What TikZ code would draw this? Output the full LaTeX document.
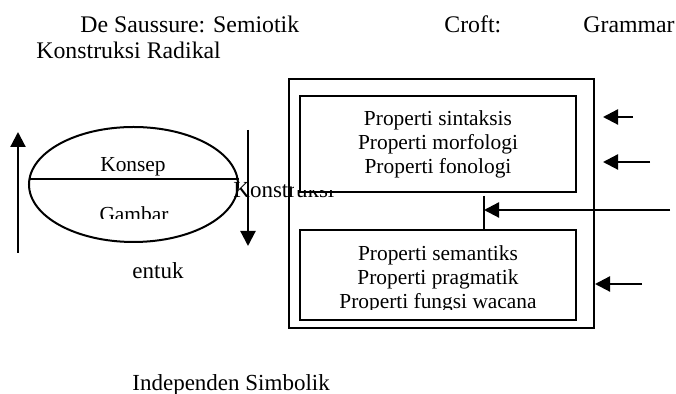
\documentclass[tikz,border=0pt]{standalone}
\usepackage{fontspec}
\setmainfont{Liberation Serif}
\usetikzlibrary{calc,positioning,arrows.meta,shapes.geometric}

\begin{document}
\begin{tikzpicture}[x=0.5pt, y=-0.5pt, >={Triangle[length=7.5pt,width=7.5pt]},
    every node/.style={font=\fontsize{10.7}{12}\selectfont, inner sep=0pt},
    big/.style={font=\fontsize{11.9}{14}\selectfont},
    mid/.style={font=\fontsize{11.5}{14}\selectfont},
    txt/.style={anchor=base west},
    ctr/.style={anchor=base},
    frame/.style={draw, line width=1pt, minimum width=#1},
    arr/.style={->, line width=1.1pt}]
  \useasboundingbox (0,0) rectangle (676,394);

  % Heading line
  \node[txt, big] (t0) at (80,33) {De Saussure: Semiotik};
  \node[txt, big] (t1) at (444,33) {Croft:};
  \node[txt, big] (t2) at (583,33) {Grammar};
  \node[txt, big] (t3) at (36,59) {Konstruksi Radikal};

  % Left: the sign as an ellipse
  \node[ellipse, draw, line width=1pt, minimum width=104.5pt, minimum height=57.5pt] (sign) at (133.5,184.5) {};
  \draw[line width=1pt] ($(sign.west)+(0.5,-5.5)$) -- ($(sign.east)+(-0.5,-5.5)$);
  \node[ctr] (konsep) at (133,172) {Konsep};
  \begin{scope}
    \clip (0,0) rectangle (676,219);
    \node[ctr] (gambar) at (134,222) {Gambar};
  \end{scope}
  \node[txt, mid] (entuk) at (132,279) {entuk};

  \coordinate (up0) at (18,253);
  \coordinate (up1) at (18,132);
  \coordinate (dn0) at (248,130);
  \coordinate (dn1) at (248,246);
  \draw[arr] (up0) -- (up1);
  \draw[arr] (dn0) -- (dn1);

  \begin{scope}
    \clip (0,0) -- (293,0) -- (293,190) -- (676,190) -- (676,394) -- (0,394) -- cycle;
    \node[txt, mid] (kons) at (233,198) {Konstruksi};
  \end{scope}

  % Right: Croft's construction
  \node[frame=152.5pt, minimum height=124.5pt] (outer) at (441.5,203.5) {};
  \node[frame=138pt, minimum height=48pt] (form) at (438,144) {};
  \node[frame=138pt, minimum height=45pt] (meaning) at (438,275) {};

  \node[ctr] (f0) at (438,126) {Properti sintaksis};
  \node[ctr] (f1) at (438,150) {Properti morfologi};
  \node[ctr] (f2) at (438,174) {Properti fonologi};
  \begin{scope}
    \clip (0,0) rectangle (676,310);
    \node[ctr] (m0) at (438,261) {Properti semantiks};
    \node[ctr] (m1) at (438,285) {Properti pragmatik};
    \node[ctr] (m2) at (438,309) {Properti fungsi wacana};
  \end{scope}

  % Symbolic link between form and meaning
  \coordinate (lnk0) at (484,196);
  \coordinate (lnk1) at (484,210);
  \draw[line width=1pt] (lnk0) -- (meaning.north -| lnk0);

  % Arrows from the right
  \coordinate (a0) at (633,117);
  \coordinate (b0) at (603,117);
  \coordinate (a1) at (650,162);
  \coordinate (b1) at (603,162);
  \coordinate (a2) at (670,210);
  \coordinate (a3) at (642,284);
  \draw[arr] (a0) -- (b0);
  \draw[arr] (a1) -- (b1);
  \draw[arr] (a2) -- (lnk1);
  \draw[arr] (a3) -- (a3 -| outer.east);

  \node[txt, mid] (indep) at (132,391) {Independen Simbolik};
\end{tikzpicture}
\end{document}
